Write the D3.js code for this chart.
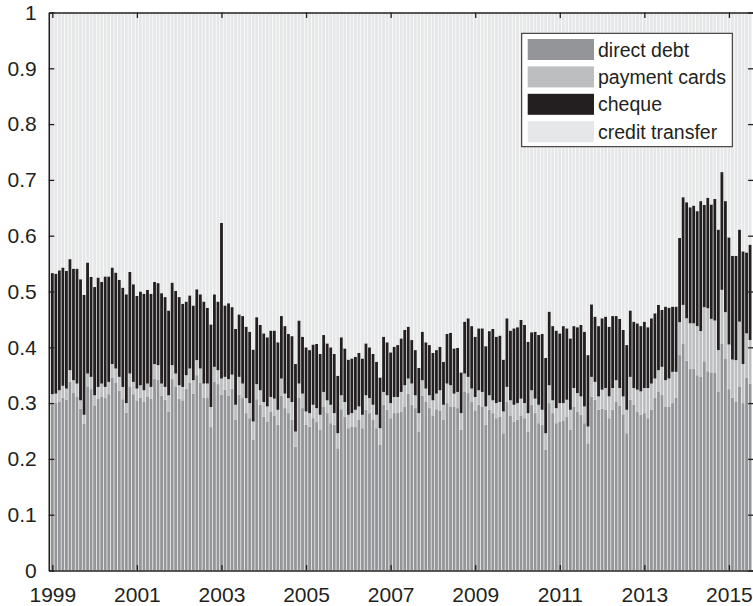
<!DOCTYPE html>
<html>
<head>
<meta charset="utf-8">
<script src="https://cdn.jsdelivr.net/npm/d3@7"></script>
<style>
  html, body { margin: 0; padding: 0; background: #fff; }
  svg { display: block; font-family: "Liberation Sans", Arial, Helvetica, sans-serif; }
</style>
</head>
<body>
<div id="chart"></div>
<script>
// monthly shares, Jan 1999 .. Jul 2015 (one line per year)
const START_YEAR = 1999

const directDebt = [
  .298, .300, .303, .310, .306, .338, .318, .312, .290, .263, .330, .325,
  .296, .308, .312, .309, .316, .345, .336, .322, .307, .283, .330, .316,
  .305, .310, .302, .312, .308, .344, .342, .313, .306, .285, .343, .330,
  .308, .305, .326, .337, .317, .350, .336, .310, .309, .257, .338, .334,
  .315, .324, .313, .326, .270, .315, .309, .282, .273, .234, .307, .297,
  .276, .267, .285, .278, .261, .313, .291, .282, .270, .222, .309, .291,
  .261, .258, .273, .266, .252, .293, .282, .264, .261, .219, .289, .276,
  .255, .258, .257, .270, .255, .288, .282, .270, .255, .225, .297, .288,
  .273, .282, .283, .285, .294, .317, .297, .291, .249, .313, .302, .291,
  .278, .289, .287, .270, .300, .294, .294, .291, .252, .320, .318, .302,
  .287, .297, .294, .261, .288, .282, .273, .276, .246, .302, .278, .267,
  .270, .278, .273, .249, .297, .282, .264, .261, .216, .300, .282, .264,
  .267, .268, .275, .252, .294, .285, .279, .264, .228, .311, .306, .288,
  .290, .288, .273, .288, .303, .295, .280, .246, .306, .297, .285, .279,
  .282, .273, .288, .309, .321, .315, .294, .294, .300, .310, .386, .407,
  .376, .362, .361, .350, .347, .375, .357, .355, .355, .321, .406, .380,
  .325, .310, .303, .330, .300, .345, .335
]

const paymentCards = [
  .018, .017, .020, .021, .020, .021, .023, .023, .015, .016, .023, .022,
  .018, .021, .023, .020, .022, .025, .026, .025, .022, .017, .023, .022,
  .021, .022, .021, .023, .021, .026, .026, .022, .023, .029, .025, .023,
  .024, .024, .024, .025, .024, .027, .026, .025, .026, .036, .027, .025,
  .029, .023, .030, .025, .027, .032, .026, .027, .027, .033, .027, .026,
  .026, .027, .026, .030, .027, .031, .026, .027, .032, .027, .026, .026,
  .024, .024, .024, .025, .027, .027, .023, .033, .021, .027, .025, .026,
  .024, .024, .031, .024, .024, .026, .027, .027, .024, .030, .023, .026,
  .027, .029, .028, .035, .038, .027, .038, .023, .033, .028, .024, .023,
  .027, .028, .036, .027, .035, .038, .023, .029, .030, .033, .029, .024,
  .024, .026, .026, .033, .026, .023, .027, .026, .039, .027, .027, .030,
  .030, .030, .027, .033, .026, .026, .033, .027, .030, .032, .023, .027,
  .033, .032, .031, .036, .033, .033, .033, .030, .030, .036, .032, .024,
  .034, .039, .039, .039, .038, .032, .032, .042, .041, .030, .039, .042,
  .045, .054, .047, .035, .038, .050, .047, .050, .056, .046, .059, .069,
  .076, .081, .082, .088, .082, .097, .113, .096, .093, .074, .097, .083,
  .080, .068, .074, .116, .070, .080, .078
]

const cheque = [
  .217, .215, .215, .212, .211, .199, .200, .206, .217, .215, .199, .179,
  .194, .196, .182, .198, .189, .173, .172, .174, .178, .195, .182, .175,
  .166, .168, .173, .168, .167, .147, .147, .162, .161, .152, .148, .148,
  .158, .149, .132, .131, .134, .127, .133, .147, .136, .148, .130, .123,
  .279, .128, .136, .121, .136, .112, .121, .128, .128, .129, .120, .117,
  .123, .124, .119, .122, .121, .112, .121, .115, .118, .121, .113, .102,
  .115, .113, .108, .115, .109, .102, .102, .103, .106, .103, .104, .096,
  .099, .098, .095, .096, .101, .093, .091, .091, .095, .091, .099, .095,
  .091, .090, .093, .096, .099, .093, .078, .081, .081, .087, .083, .090,
  .085, .078, .078, .077, .089, .094, .081, .079, .073, .093, .105, .112,
  .108, .111, .114, .108, .115, .128, .119, .119, .093, .123, .125, .137,
  .136, .141, .140, .128, .104, .120, .125, .136, .135, .132, .133, .139,
  .125, .138, .128, .128, .111, .118, .128, .134, .128, .130, .117, .126,
  .128, .128, .125, .129, .115, .124, .119, .116, .119, .119, .119, .117,
  .119, .109, .117, .117, .117, .102, .132, .127, .117, .117, .151, .193,
  .208, .208, .211, .206, .233, .183, .198, .205, .218, .216, .211, .199,
  .192, .186, .187, .165, .202, .145, .171
]

const creditTransfer = [
  .467, .468, .462, .457, .463, .442, .459, .459, .478, .506, .448, .474,
  .492, .475, .483, .473, .473, .457, .466, .479, .493, .505, .465, .487,
  .508, .500, .504, .497, .504, .483, .485, .503, .510, .534, .484, .499,
  .510, .522, .518, .507, .525, .496, .505, .518, .529, .559, .505, .518,
  .377, .525, .521, .528, .567, .541, .544, .563, .572, .604, .546, .560,
  .575, .582, .570, .570, .591, .544, .562, .576, .580, .630, .552, .581,
  .600, .605, .595, .594, .612, .578, .593, .600, .612, .651, .582, .602,
  .622, .620, .617, .610, .620, .593, .600, .612, .626, .654, .581, .591,
  .609, .599, .596, .584, .569, .563, .587, .605, .637, .572, .591, .596,
  .610, .605, .599, .626, .576, .574, .602, .601, .645, .554, .548, .562,
  .581, .566, .566, .598, .571, .567, .581, .579, .622, .548, .570, .566,
  .564, .551, .560, .590, .573, .572, .578, .576, .619, .536, .562, .570,
  .575, .562, .566, .584, .562, .564, .560, .572, .614, .523, .545, .562,
  .548, .545, .563, .544, .544, .549, .569, .596, .534, .554, .557, .562,
  .554, .564, .548, .539, .524, .533, .527, .529, .527, .527, .404, .331,
  .340, .349, .346, .356, .338, .345, .332, .344, .334, .389, .286, .338,
  .403, .436, .436, .389, .428, .430, .416
]

const seriesNames = ["direct debt", "payment cards", "cheque", "credit transfer"]
const seriesValues = [directDebt, paymentCards, cheque, creditTransfer]
const seriesColors = ["#939598", "#bcbec0", "#231f20", "#e6e7e8"]

const xTicks = [1999, 2001, 2003, 2005, 2007, 2009, 2011, 2013, 2015]
const yTicks = [0, 0.1, 0.2, 0.3, 0.4, 0.5, 0.6, 0.7, 0.8, 0.9, 1]

const WIDTH = 753, HEIGHT = 606
const PLOT = { LEFT: 48.8, RIGHT: 753.6, TOP: 12.5, BOTTOM: 570.5 }
const INK = "#231f20"

const rows = directDebt.map((_, i) => {
  const row = { t: START_YEAR + i / 12 }
  seriesNames.forEach((name, s) => { row[name] = seriesValues[s][i] })
  return row
})

const x = d3.scaleLinear()
  .domain([START_YEAR - 1 / 12, rows[rows.length - 1].t + 1 / 12])
  .range([PLOT.LEFT, PLOT.RIGHT])
const y = d3.scaleLinear().domain([0, 1]).range([PLOT.BOTTOM, PLOT.TOP])
const barW = x(START_YEAR + 0.8 / 12) - x(START_YEAR)

const svg = d3.select("#chart").append("svg")
  .attr("width", WIDTH)
  .attr("height", HEIGHT)

svg.append("defs").append("clipPath").attr("id", "plot-clip")
  .append("rect")
  .attr("x", PLOT.LEFT).attr("y", PLOT.TOP)
  .attr("width", PLOT.RIGHT - PLOT.LEFT).attr("height", PLOT.BOTTOM - PLOT.TOP)

const stacked = d3.stack().keys(seriesNames)(rows)

svg.append("g")
  .attr("clip-path", "url(#plot-clip)")
  .selectAll("g")
  .data(stacked)
  .join("g")
  .attr("fill", (d, i) => seriesColors[i])
  .selectAll("rect")
  .data(d => d)
  .join("rect")
  .attr("x", d => x(d.data.t) - barW / 2)
  .attr("width", barW)
  .attr("y", d => y(Math.min(d[1], 1)))
  .attr("height", d => y(d[0]) - y(Math.min(d[1], 1)))

// axes, ticks pointing inwards on all four sides
const TICK = 5.5
const styleAxis = g => {
  g.select(".domain").attr("stroke", INK).attr("stroke-width", 1.6)
  g.selectAll(".tick line").attr("stroke", INK).attr("stroke-width", 1.3)
  g.selectAll(".tick text").attr("fill", INK).attr("font-size", 21)
  g.attr("font-family", null)
}

svg.append("g")
  .attr("transform", `translate(0, ${PLOT.BOTTOM})`)
  .call(d3.axisBottom(x).tickValues(xTicks).tickFormat(d3.format("d"))
    .tickSizeInner(-TICK).tickSizeOuter(0).tickPadding(16.5))
  .call(styleAxis)

svg.append("g")
  .attr("transform", `translate(0, ${PLOT.TOP})`)
  .call(d3.axisTop(x).tickValues(xTicks).tickFormat("")
    .tickSizeInner(-TICK).tickSizeOuter(0))
  .call(styleAxis)

svg.append("g")
  .attr("transform", `translate(${PLOT.LEFT}, 0)`)
  .call(d3.axisLeft(y).tickValues(yTicks).tickFormat(d3.format("~g"))
    .tickSizeInner(-TICK).tickSizeOuter(0).tickPadding(12))
  .call(styleAxis)

svg.append("g")
  .attr("transform", `translate(${PLOT.RIGHT}, 0)`)
  .call(d3.axisRight(y).tickValues(yTicks).tickFormat("")
    .tickSizeInner(-TICK).tickSizeOuter(0))
  .call(styleAxis)

// legend
const legend = svg.append("g").attr("transform", "translate(521.7, 33.3)")
legend.append("rect")
  .attr("width", 210.6).attr("height", 113.4)
  .attr("fill", "#fff").attr("stroke", INK).attr("stroke-width", 1)

const item = legend.selectAll(".item")
  .data(seriesNames)
  .join("g")
  .attr("class", "item")
  .attr("transform", (d, i) => `translate(6, ${5.7 + i * 27.4})`)

item.append("rect")
  .attr("width", 66.3).attr("height", 21)
  .attr("fill", (d, i) => seriesColors[i])

item.append("text")
  .attr("x", 70.3).attr("y", 17.5)
  .attr("font-size", 19.5)
  .attr("fill", INK)
  .text(d => d)
</script>
</body>
</html>
